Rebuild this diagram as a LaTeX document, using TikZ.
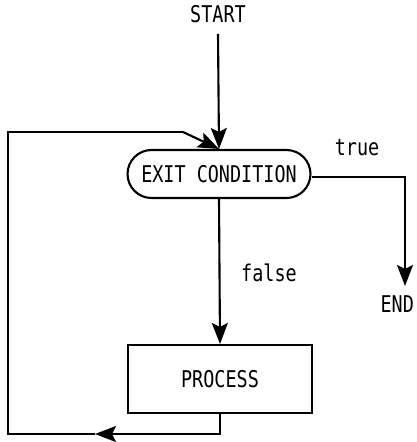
\documentclass[tikz,border=0pt]{standalone}
\usepackage{fontspec}
\setmainfont{DejaVu Sans Mono}
\usetikzlibrary{arrows.meta}
% tall, narrow lettering
\newcommand{\tallword}[1]{\scalebox{1}[1.25]{#1}}
\begin{document}
\begin{tikzpicture}[x=0.02cm,y=-0.02cm,
  line width=1.2pt,
  arr/.style={-{Stealth[length=0.42cm,width=0.32cm,inset=0.08cm]}},
  lbl/.style={font=\fontsize{10.5pt}{12pt}\selectfont, inner sep=0pt},
  term/.style={draw, lbl, minimum width=3.66cm, minimum height=0.96cm, rounded corners=0.48cm},
  proc/.style={draw, lbl, minimum width=3.68cm, minimum height=1.36cm}]
\useasboundingbox (0,0) rectangle (416,442);

% nodes
\node[lbl] (start) at (218,14) {\tallword{START}};
\node[term] (cond) at (219,174) {\tallword{EXIT CONDITION}};
\node[proc] (process) at (220,379) {\tallword{PROCESS}\hspace{0.4cm}};
\node[lbl, anchor=north east] (end) at (415,295) {\tallword{END}};
\node[lbl] (true) at (357,148) {\tallword{true}};
\node[lbl] (false) at (269,273) {\tallword{false}};

% loop-back route
\coordinate (mid) at (95,434);
\coordinate (bl) at (8,434);
\coordinate (tl) at (8,132);
\coordinate (kink) at (183,132);
\coordinate (endtip) at (405,286);

% connectors
\draw[arr] ([yshift=-0.2cm]start.south) -- (cond.north);
\draw[arr] ([yshift=-0.06cm]cond.east) -| (endtip);
\draw[arr] (cond.south) -- (process.north);
\draw[arr] (process.south) |- (mid);
\draw (mid) -- (bl) -- (tl) -- (kink);
\draw[arr] (kink) -- (cond.north);
\end{tikzpicture}
\end{document}
